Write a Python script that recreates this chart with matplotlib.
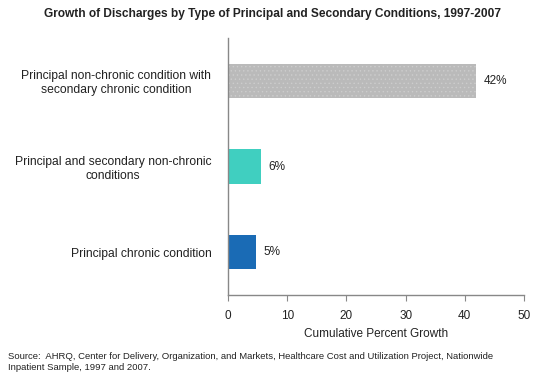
import matplotlib
matplotlib.use('Agg')
import matplotlib.pyplot as plt

plt.rcParams['font.family'] = ['Liberation Sans', 'DejaVu Sans']
plt.rcParams['hatch.linewidth'] = 0.5

categories = ['Principal non-chronic condition with\nsecondary chronic condition',
              'Principal and secondary non-chronic\nconditions',
              'Principal chronic condition']
growth = [41.9, 5.6, 4.7]
value_labels = ['42%', '6%', '5%']
colors = ['#bababa', '#40cfc0', '#1a6bb5']
source = ('Source:  AHRQ, Center for Delivery, Organization, and Markets, Healthcare Cost and Utilization Project, Nationwide\n'
          'Inpatient Sample, 1997 and 2007.')

fig = plt.figure(figsize=(5.47, 3.79), dpi=100)
ax = fig.add_axes([228 / 547, 1 - 295 / 379, 296 / 547, 257 / 379])

pos = list(range(len(categories)))
bars = ax.barh(pos, growth, height=0.4, color=colors, edgecolor='none')
# stipple texture on the grey bar
bars[0].set_hatch('....')
bars[0].set_edgecolor('#cdcdcd')
bars[0].set_linewidth(0)

for b, lab in zip(bars, value_labels):
    ax.text(b.get_width() + 1.3, b.get_y() + b.get_height() / 2, lab,
            va='center', ha='left', fontsize=8.5, color='#222222')

ax.set_ylim(2.5, -0.5)
ax.set_xlim(0, 50)
ax.set_xticks(range(0, 51, 10))
ax.set_yticks(pos)
ax.set_yticklabels(categories, fontsize=8.7, multialignment='center', color='#222222')
ax.tick_params(axis='y', length=0, pad=12)
ax.tick_params(axis='x', length=4, color='#888888', labelsize=8.5, labelcolor='#222222', pad=7)
for s in ['top', 'right']:
    ax.spines[s].set_visible(False)
for s in ['left', 'bottom']:
    ax.spines[s].set_color('#888888')
    ax.spines[s].set_linewidth(1)
ax.set_xlabel('Cumulative Percent Growth', fontsize=8.5, color='#222222', labelpad=4)

fig.text(273 / 547, 1 - 14 / 379, 'Growth of Discharges by Type of Principal and Secondary Conditions, 1997-2007',
         ha='center', va='center', fontsize=8.6, fontweight='bold', color='#222222')
fig.text(8 / 547, 1 - 362 / 379, source, ha='left', va='center', fontsize=6.8,
         color='#222222', linespacing=1.3)

fig.savefig('out.png', dpi=100)
